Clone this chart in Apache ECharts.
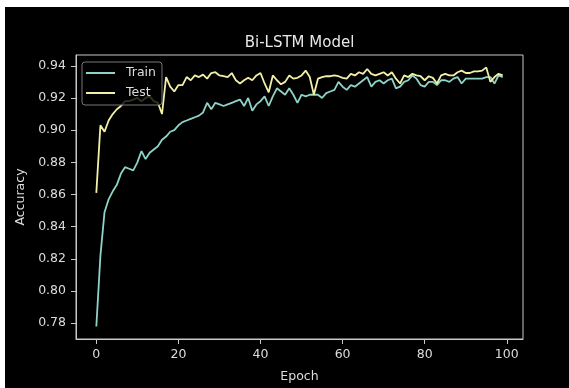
<!DOCTYPE html>
<html>
<head>
<meta charset="utf-8">
<script src="https://cdn.jsdelivr.net/npm/echarts@6/dist/echarts.min.js"></script>
<style>
  html, body { margin: 0; padding: 0; background: #fff; }
  #chart { position: absolute; left: 5px; top: 7px; width: 564px; height: 381px; }
</style>
</head>
<body>
<div id="chart"></div>
<script>
const trainAcc = [
  0.778, 0.822, 0.849, 0.857, 0.862, 0.866, 0.873, 0.877, 0.876, 0.875,
  0.880, 0.887, 0.882, 0.886, 0.888, 0.890, 0.894, 0.896, 0.899, 0.900,
  0.903, 0.905, 0.906, 0.907, 0.908, 0.909, 0.911, 0.917, 0.913, 0.917,
  0.916, 0.915, 0.916, 0.917, 0.918, 0.919, 0.915, 0.920, 0.912, 0.916,
  0.918, 0.921, 0.915, 0.921, 0.926, 0.924, 0.922, 0.926, 0.922, 0.917,
  0.922, 0.921, 0.922, 0.922, 0.922, 0.920, 0.923, 0.924, 0.925, 0.930,
  0.927, 0.925, 0.928, 0.927, 0.929, 0.931, 0.933, 0.927, 0.930, 0.931,
  0.929, 0.931, 0.932, 0.926, 0.927, 0.930, 0.931, 0.934, 0.932, 0.928,
  0.927, 0.930, 0.930, 0.928, 0.931, 0.931, 0.930, 0.932, 0.933, 0.929,
  0.932, 0.932, 0.932, 0.932, 0.932, 0.933, 0.933, 0.929, 0.934, 0.933
];

const testAcc = [
  0.861, 0.903, 0.899, 0.906, 0.910, 0.913, 0.915, 0.918, 0.918, 0.919,
  0.920, 0.918, 0.920, 0.921, 0.918, 0.917, 0.910, 0.933, 0.927, 0.924,
  0.928, 0.928, 0.933, 0.931, 0.934, 0.933, 0.9345, 0.932, 0.9355, 0.936,
  0.934, 0.9335, 0.933, 0.9355, 0.931, 0.929, 0.931, 0.9325, 0.931, 0.934,
  0.9355, 0.929, 0.9235, 0.934, 0.931, 0.9285, 0.930, 0.934, 0.932, 0.9325,
  0.934, 0.937, 0.933, 0.922, 0.932, 0.933, 0.9335, 0.9335, 0.934, 0.9335,
  0.9325, 0.932, 0.935, 0.934, 0.936, 0.935, 0.938, 0.935, 0.934, 0.935,
  0.936, 0.934, 0.936, 0.932, 0.929, 0.934, 0.933, 0.935, 0.934, 0.9335,
  0.931, 0.9335, 0.9325, 0.929, 0.934, 0.935, 0.934, 0.934, 0.936, 0.937,
  0.9355, 0.9355, 0.9365, 0.9365, 0.937, 0.939, 0.930, 0.933, 0.935, 0.934
];

const xTicks = [0, 20, 40, 60, 80, 100];
const yTicks = [0.78, 0.80, 0.82, 0.84, 0.86, 0.88, 0.90, 0.92, 0.94];

const font = 'DejaVu Sans';
const spine = '#c8c8c8';
const labelColor = '#dcdcdc';

const chart = echarts.init(document.getElementById('chart'));

chart.setOption({
  backgroundColor: '#000',
  animation: false,
  textStyle: { fontFamily: font },
  title: {
    text: 'Bi-LSTM Model',
    left: 294.5,
    top: 29,
    padding: 0,
    textAlign: 'center',
    textStyle: { color: '#e8e8e8', fontSize: 15, fontWeight: 'normal', fontFamily: font }
  },
  legend: {
    orient: 'vertical',
    left: 77,
    top: 55,
    padding: [4, 6, 5, 4],
    itemGap: 6,
    itemWidth: 29,
    itemHeight: 2,
    icon: 'rect',
    backgroundColor: 'rgba(0,0,0,0.8)',
    borderColor: '#777',
    borderWidth: 1,
    borderRadius: 3,
    textStyle: { color: labelColor, fontSize: 12.5, lineHeight: 14, padding: [0, 0, 0, 6], fontFamily: font },
    data: ['Train', 'Test']
  },
  grid: {
    left: 71, right: 46, top: 48, bottom: 44,
    show: true, borderColor: spine, borderWidth: 1
  },
  xAxis: {
    type: 'value',
    min: -4.95,
    max: 103.95,
    name: 'Epoch',
    nameLocation: 'middle',
    nameGap: 31,
    nameTextStyle: { color: labelColor, fontSize: 12.5, fontFamily: font },
    axisLine: { onZero: false, lineStyle: { color: spine } },
    axisTick: { show: true, length: 5, customValues: xTicks, lineStyle: { color: spine } },
    axisLabel: { color: labelColor, fontSize: 12.5, margin: 9, customValues: xTicks, fontFamily: font },
    splitLine: { show: false }
  },
  yAxis: {
    type: 'value',
    min: 0.7702,
    max: 0.9467,
    name: 'Accuracy',
    nameLocation: 'middle',
    nameGap: 45,
    nameTextStyle: { color: labelColor, fontSize: 12.5, fontFamily: font },
    axisLine: { show: true, onZero: false, lineStyle: { color: spine } },
    axisTick: { show: true, length: 5, customValues: yTicks, lineStyle: { color: spine } },
    axisLabel: {
      color: labelColor, fontSize: 12.5, margin: 10, customValues: yTicks, fontFamily: font,
      formatter: v => v.toFixed(2)
    },
    splitLine: { show: false }
  },
  series: [
    {
      name: 'Train',
      type: 'line',
      data: trainAcc.map((v, i) => [i, v]),
      showSymbol: false,
      color: '#8dd3c7',
      lineStyle: { width: 1.8, color: '#8dd3c7' }
    },
    {
      name: 'Test',
      type: 'line',
      data: testAcc.map((v, i) => [i, v]),
      showSymbol: false,
      color: '#f2f0a6',
      lineStyle: { width: 1.8, color: '#f2f0a6' }
    }
  ]
});
</script>
</body>
</html>
